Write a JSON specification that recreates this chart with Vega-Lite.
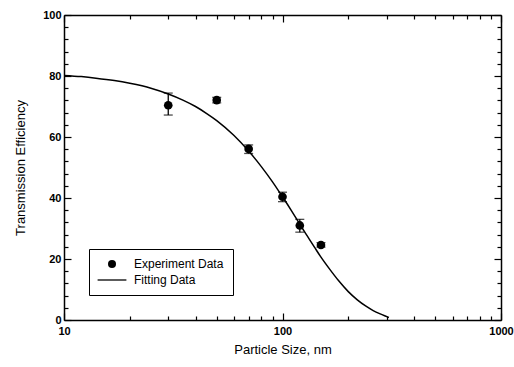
{
  "$schema": "https://vega.github.io/schema/vega-lite/v6.json",
  "width": 437,
  "height": 305,
  "autosize": "none",
  "padding": {"left": 64, "top": 15, "right": 13, "bottom": 47},
  "background": "white",
  "config": {
    "view": {"stroke": null},
    "font": "Liberation Sans",
    "legend": {"strokeWidth": 1},
    "axis": {
      "domainColor": "black",
      "domainWidth": 1.5,
      "tickColor": "black",
      "tickWidth": 1.2,
      "grid": false,
      "labelFont": "Liberation Sans",
      "labelFontSize": 11,
      "labelFontWeight": "bold",
      "labelColor": "black",
      "titleFont": "Liberation Sans",
      "titleFontSize": 13,
      "titleFontWeight": "normal",
      "titleColor": "black"
    }
  },
  "datasets": {
    "fitdata": [
      {"d": 10, "T": 80.2},
      {"d": 12, "T": 79.8},
      {"d": 14, "T": 79.3},
      {"d": 17, "T": 78.5},
      {"d": 20, "T": 77.6},
      {"d": 25, "T": 76.0},
      {"d": 30, "T": 74.1},
      {"d": 35, "T": 72.1},
      {"d": 40, "T": 70.0},
      {"d": 45, "T": 67.7},
      {"d": 50, "T": 65.4},
      {"d": 60, "T": 60.5},
      {"d": 70, "T": 55.4},
      {"d": 80, "T": 50.3},
      {"d": 90, "T": 45.3},
      {"d": 100, "T": 40.4},
      {"d": 110, "T": 35.8},
      {"d": 120, "T": 31.4},
      {"d": 130, "T": 27.5},
      {"d": 140, "T": 23.9},
      {"d": 150, "T": 20.6},
      {"d": 165, "T": 16.5},
      {"d": 180, "T": 13.0},
      {"d": 200, "T": 9.3},
      {"d": 220, "T": 6.6},
      {"d": 240, "T": 4.6},
      {"d": 260, "T": 3.1},
      {"d": 280, "T": 2.0},
      {"d": 300, "T": 1.1},
      {"d": 307, "T": 0.8}
    ],
    "expdata": [
      {"d": 30, "T": 70.4, "lo": 67.2, "hi": 74.4, "series": "Experiment Data"},
      {"d": 50, "T": 72.1, "lo": 71.2, "hi": 73.0, "series": "Experiment Data"},
      {"d": 70, "T": 56.1, "lo": 54.6, "hi": 57.4, "series": "Experiment Data"},
      {"d": 100, "T": 40.4, "lo": 38.8, "hi": 41.9, "series": "Experiment Data"},
      {"d": 120, "T": 31.0, "lo": 28.8, "hi": 33.0, "series": "Experiment Data"},
      {"d": 150, "T": 24.6, "lo": 23.9, "hi": 25.4, "series": "Experiment Data"}
    ]
  },
  "layer": [
    {
      "data": {"name": "fitdata"},
      "mark": {"type": "line", "color": "black", "strokeWidth": 1.5, "interpolate": "monotone"},
      "encoding": {
        "x": {
          "field": "d", "type": "quantitative",
          "scale": {"type": "log", "domain": [10, 1000], "nice": false},
          "axis": {
            "orient": "bottom",
            "title": "Particle Size, nm",
            "values": [10, 20, 30, 40, 50, 60, 70, 80, 90, 100, 200, 300, 400, 500, 600, 700, 800, 900, 1000],
            "format": "d",
            "labelExpr": "indexof([10,100,1000], datum.value) >= 0 ? datum.label : ''",
            "tickSize": {"condition": {"test": "indexof([10,100,1000], datum.value) >= 0", "value": -7}, "value": -4},
            "labelPadding": 12,
            "titlePadding": 7,
            "labelFlush": false
          }
        },
        "y": {
          "field": "T", "type": "quantitative",
          "scale": {"domain": [0, 100], "nice": false},
          "axis": {
            "orient": "left",
            "title": "Transmission Efficiency",
            "values": [0, 4, 8, 12, 16, 20, 24, 28, 32, 36, 40, 44, 48, 52, 56, 60, 64, 68, 72, 76, 80, 84, 88, 92, 96, 100],
            "labelExpr": "datum.value % 20 === 0 ? datum.label : ''",
            "tickSize": {"condition": {"test": "datum.value % 20 === 0", "value": -7}, "value": -4},
            "labelPadding": 10,
            "titlePadding": 15
          }
        }
      }
    },
    {
      "data": {"name": "expdata"},
      "mark": {"type": "rule", "color": "black", "strokeWidth": 1.3},
      "encoding": {
        "x": {"field": "d", "type": "quantitative", "scale": {"type": "log", "domain": [10, 1000], "nice": false}, "axis": null},
        "y": {"field": "lo", "type": "quantitative", "scale": {"domain": [0, 100], "nice": false}, "axis": null},
        "y2": {"field": "hi"}
      }
    },
    {
      "data": {"name": "expdata"},
      "mark": {"type": "tick", "color": "black", "orient": "horizontal", "size": 9, "thickness": 1.3},
      "encoding": {
        "x": {"field": "d", "type": "quantitative", "scale": {"type": "log", "domain": [10, 1000], "nice": false}, "axis": null},
        "y": {"field": "lo", "type": "quantitative", "scale": {"domain": [0, 100], "nice": false}, "axis": null}
      }
    },
    {
      "data": {"name": "expdata"},
      "mark": {"type": "tick", "color": "black", "orient": "horizontal", "size": 9, "thickness": 1.3},
      "encoding": {
        "x": {"field": "d", "type": "quantitative", "scale": {"type": "log", "domain": [10, 1000], "nice": false}, "axis": null},
        "y": {"field": "hi", "type": "quantitative", "scale": {"domain": [0, 100], "nice": false}, "axis": null}
      }
    },
    {
      "data": {"name": "expdata"},
      "mark": {"type": "point", "filled": true, "color": "black", "opacity": 1, "size": 75},
      "encoding": {
        "x": {
          "field": "d", "type": "quantitative",
          "scale": {"type": "log", "domain": [10, 1000], "nice": false},
          "axis": {
            "orient": "top",
            "title": null,
            "labels": false,
            "values": [10, 20, 30, 40, 50, 60, 70, 80, 90, 100, 200, 300, 400, 500, 600, 700, 800, 900, 1000],
            "tickSize": {"condition": {"test": "indexof([10,100,1000], datum.value) >= 0", "value": -7}, "value": -4}
          }
        },
        "y": {
          "field": "T", "type": "quantitative",
          "scale": {"domain": [0, 100], "nice": false},
          "axis": {
            "orient": "right",
            "title": null,
            "labels": false,
            "values": [0, 4, 8, 12, 16, 20, 24, 28, 32, 36, 40, 44, 48, 52, 56, 60, 64, 68, 72, 76, 80, 84, 88, 92, 96, 100],
            "tickSize": {"condition": {"test": "datum.value % 20 === 0", "value": -7}, "value": -4}
          }
        },
        "shape": {
          "field": "series", "type": "nominal",
          "scale": {"domain": ["Experiment Data", "Fitting Data"], "range": ["circle", "M-3.6,-0.16L3.6,-0.16L3.6,0.16L-3.6,0.16Z"]},
          "legend": {
            "title": null,
            "orient": "none",
            "legendX": 25,
            "legendY": 234,
            "strokeColor": "black",
            "fillColor": "white",
            "padding": 9,
            "rowPadding": 4,
            "labelFont": "Liberation Sans",
            "labelFontSize": 12,
            "labelColor": "black",
            "labelOffset": 16,
            "symbolOffset": 8,
            "symbolSize": 64,
            "symbolFillColor": "black",
            "symbolStrokeColor": "black",
            "symbolStrokeWidth": 0.5,
            "symbolOpacity": 1
          }
        }
      }
    }
  ]
}
